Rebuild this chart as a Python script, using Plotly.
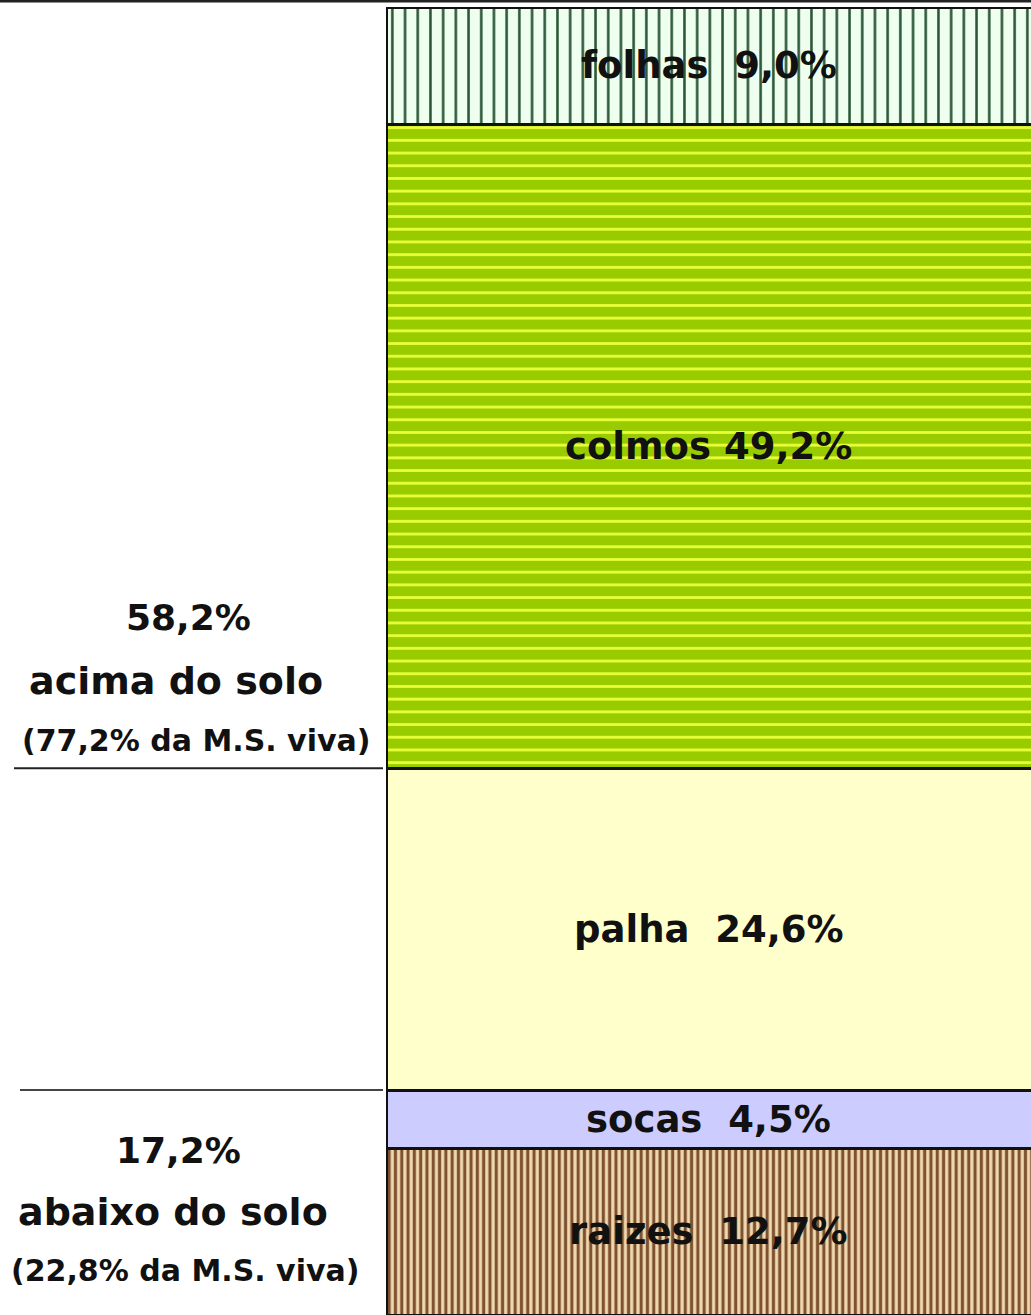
import plotly.graph_objects as go

# Dry-matter partition of the sugarcane plant (% of total), stacked bottom -> top
parts = ["raizes", "socas", "palha", "colmos", "folhas"]
shares = [12.7, 4.5, 24.6, 49.2, 9.0]
label_gap = ["\u00a0 ", "\u00a0 ", "\u00a0 ", " ", "\u00a0 "]

# Group totals shown on the left
group_names = ["acima do solo", "abaixo do solo"]
group_shares = [58.2, 17.2]
group_live_shares = [77.2, 22.8]

fills = {
    "raizes": dict(shape="|", bgcolor="#F0D9B0", fgcolor="#7E5230", size=6.3, solidity=0.5),
    "socas": dict(shape="", bgcolor="#CCCCFF"),
    "palha": dict(shape="", bgcolor="#FFFFCC"),
    "colmos": dict(shape="-", bgcolor="#99CC00", fgcolor="#E8FF3A", size=12.7, solidity=0.22),
    "folhas": dict(shape="|", bgcolor="#EEFFF0", fgcolor="#2A5535", size=12.7, solidity=0.2),
}
base_colors = {"raizes": "#C8A070", "socas": "#CCCCFF", "palha": "#FFFFCC",
               "colmos": "#99CC00", "folhas": "#EEFFF0"}

W, H = 1031, 1315
bar_left_px, bar_top_px = 386, 7
x_lo, x_hi = 0.5, 1.4

fig = go.Figure()
for name, val in zip(parts, shares):
    pat = dict(fills[name])
    pat["fillmode"] = "replace"
    fig.add_trace(go.Bar(
        x=[1], y=[val], width=1, name=name,
        marker=dict(color=base_colors[name], pattern=pat,
                    line=dict(color="#111111", width=3)),
        hoverinfo="skip",
    ))

def pct(v):
    return f"{v:.1f}".replace(".", ",") + "%"

label_font = dict(family="DejaVu Sans", size=37, color="#111111")
annotations = []
cum = 0.0
for name, val, gap in zip(parts, shares, label_gap):
    annotations.append(dict(
        x=(x_lo + x_hi) / 2, y=cum + val / 2, xref="x", yref="y",
        text=f"<b>{name}{gap}{pct(val)}</b>", showarrow=False,
        font=label_font, xanchor="center", yanchor="middle",
    ))
    cum += val

def py(px):
    return 1 - px / H

# Left-hand group captions: (center x px, center y px, font size) per line
group_lines = [
    [(188, 618, 36), (176, 681, 38), (196, 740, 30)],
    [(178, 1150, 36), (173, 1212, 38), (185, 1270, 30)],
]
for gname, gval, glive, pos in zip(group_names, group_shares, group_live_shares, group_lines):
    texts = [pct(gval), gname, f"({pct(glive)} da M.S. viva)"]
    for t, (cx, cy, fs) in zip(texts, pos):
        annotations.append(dict(
            x=cx / W, y=py(cy), xref="paper", yref="paper",
            text=f"<b>{t}</b>", showarrow=False,
            font=dict(family="DejaVu Sans", size=fs, color="#111111"),
            xanchor="center", yanchor="middle",
        ))

# Separator lines at the soil boundary levels (top of each group)
above_base = sum(shares[:3])   # colmos + folhas sit above this level
below_top = sum(shares[:2])    # socas + raizes sit below this level
shapes = [
    dict(type="line", xref="paper", yref="y", x0=14 / W, x1=383 / W,
         y0=above_base, y1=above_base, line=dict(color="#222222", width=2)),
    dict(type="line", xref="paper", yref="y", x0=20 / W, x1=383 / W,
         y0=below_top, y1=below_top, line=dict(color="#444444", width=2)),
    dict(type="line", xref="paper", yref="paper", x0=0, x1=1, y0=1, y1=1,
         line=dict(color="#222222", width=5)),
]

fig.update_layout(
    width=W, height=H, margin=dict(l=0, r=0, t=0, b=0),
    paper_bgcolor="white", plot_bgcolor="white",
    barmode="stack", showlegend=False,
    xaxis=dict(domain=[bar_left_px / W, 1], range=[x_lo, x_hi], visible=False, fixedrange=True),
    yaxis=dict(domain=[0, 1 - bar_top_px / H], range=[0, 100], visible=False, fixedrange=True),
    annotations=annotations, shapes=shapes,
)

fig.write_html("out.html")
